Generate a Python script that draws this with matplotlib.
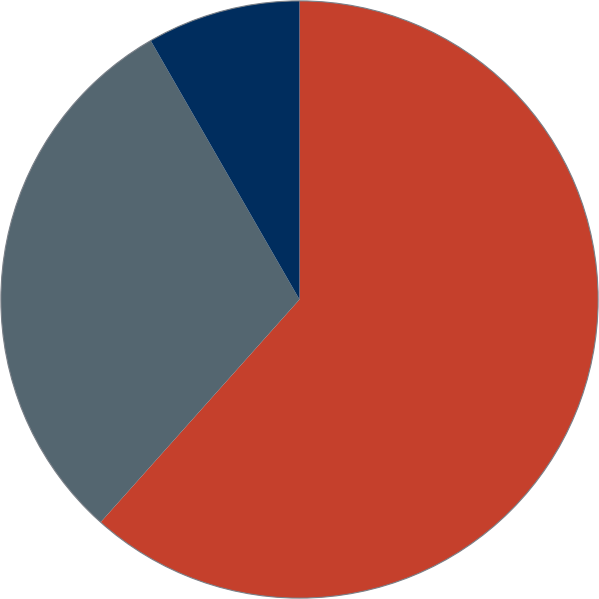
import matplotlib
matplotlib.use("Agg")
import matplotlib.pyplot as plt

labels = ["A", "B", "C"]
values = [61.6, 30.1, 8.3]
colors = ["#C5402C", "#546670", "#002D5E"]

fig = plt.figure(figsize=(5.99, 5.99), dpi=100)
ax = fig.add_axes([0, 0, 1, 1])
wedges, _ = ax.pie(values, colors=colors, startangle=90, counterclock=False,
                   radius=1.0, wedgeprops=dict(linewidth=0.6, edgecolor="#8a8f94"))
for w in wedges:
    w.set_linewidth(0)
ax.add_patch(plt.Circle((0, 0), 1.0, fill=False, edgecolor="#7a8088", linewidth=0.8))
ax.set_xlim(-1.003, 1.003)
ax.set_ylim(-1.003, 1.003)
ax.set_aspect("equal")
ax.axis("off")
fig.savefig("out.png", dpi=100)
